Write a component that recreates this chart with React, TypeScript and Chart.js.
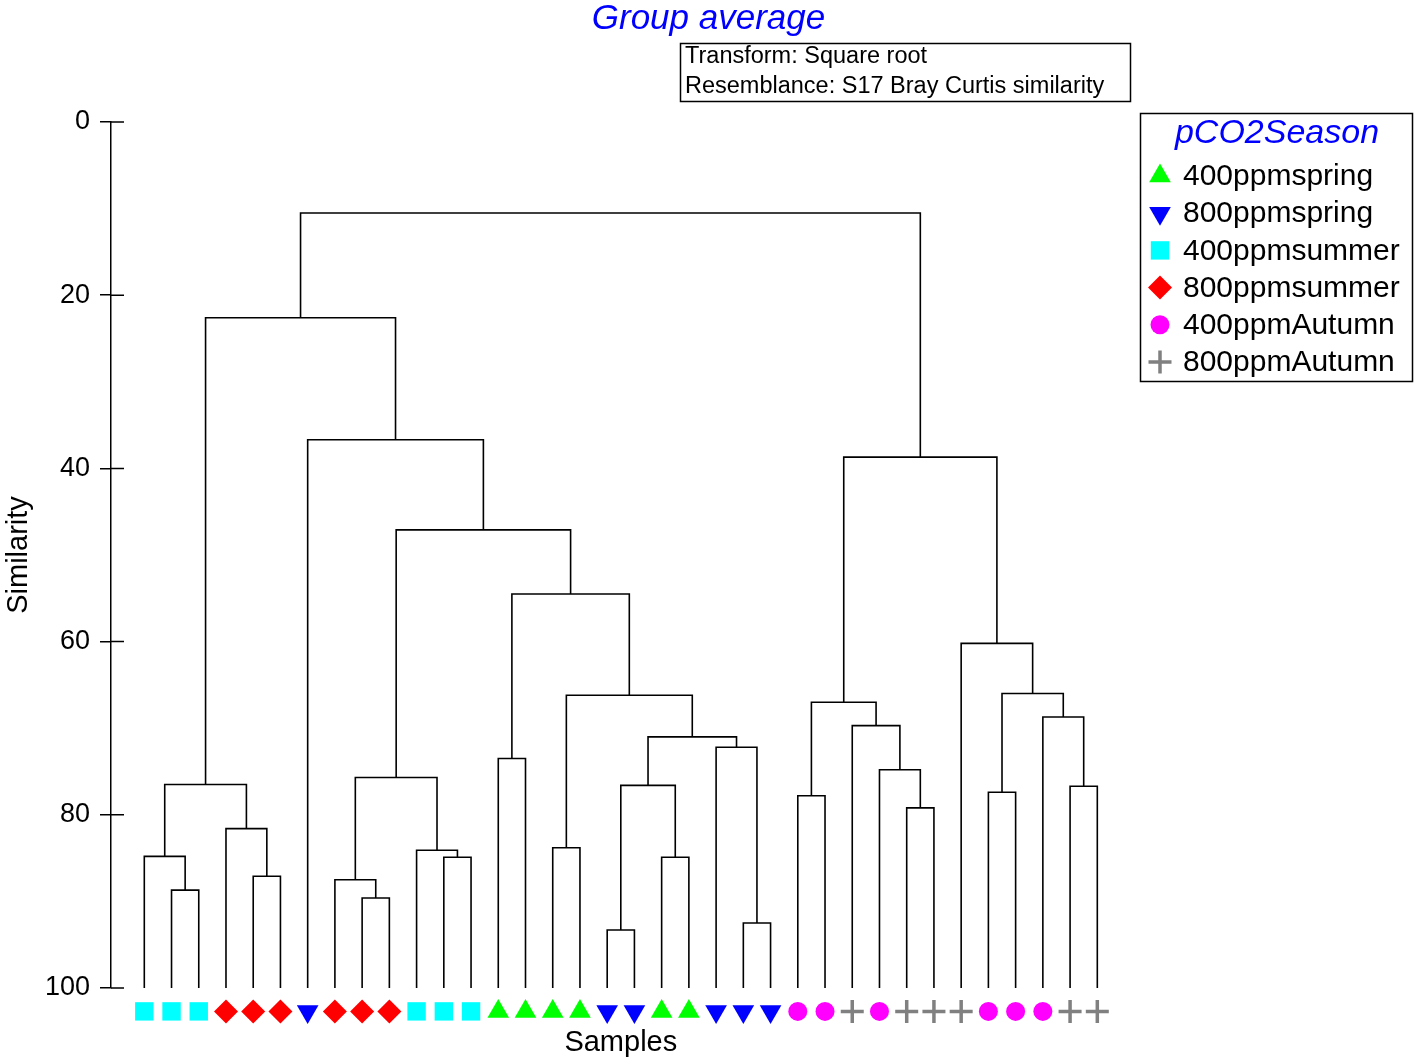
import { useEffect, useRef } from "react";
import { Chart, PointElement, registerables, type Plugin } from "chart.js";

Chart.register(...registerables);

const FONT = "'Liberation Sans', Arial, sans-serif";

const groupNames = ["400ppmspring", "800ppmspring", "400ppmsummer", "800ppmsummer", "400ppmAutumn", "800ppmAutumn"];
const groupColors = ["#00ff00", "#0000ff", "#00ffff", "#ff0000", "#ff00ff", "#808080"];
const groupStyles = ["triangle", "triangle", "rect", "rectRot", "circle", "cross"];
const groupRotation = [0, 180, 0, 0, 0, 0];
const groupRadius = [12.5, 12.5, 13, 12, 9.5, 11.5];

// dendrogram leaf order, each value is an index into groupNames
const leafGroups = [2, 2, 2, 3, 3, 3, 1, 3, 3, 3, 2, 2, 2, 0, 0, 0, 0, 1, 1, 0, 0, 1, 1, 1, 4, 4, 5, 4, 5, 5, 5, 4, 4, 4, 5, 5];

// linkage: ids 0..35 are leaves, merge k becomes node 36 + k
const mergeLeft = [1, 0, 4, 3, 37, 8, 7, 11, 10, 42, 13, 15, 17, 19, 48, 22, 21, 50, 47, 46, 45, 6, 40, 24, 28, 27, 26, 59, 31, 34, 33, 64, 30, 63, 58];
const mergeRight = [2, 36, 5, 38, 39, 9, 41, 12, 43, 44, 14, 16, 18, 20, 49, 23, 51, 52, 53, 54, 55, 56, 57, 25, 29, 60, 61, 62, 32, 35, 65, 66, 67, 68, 69];
const mergeSimilarity = [88.7, 84.8, 87.1, 81.6, 76.5, 89.6, 87.5, 84.9, 84.1, 75.7, 73.5, 83.8, 93.3, 84.9, 76.6, 92.5, 72.2, 71.0, 66.2, 54.5, 47.1, 36.7, 22.6, 77.8, 79.2, 74.8, 69.7, 67.0, 77.4, 76.7, 68.7, 66.0, 60.2, 38.7, 10.5];

const yTicks = [0, 20, 40, 60, 80, 100];
const infoLines = ["Transform: Square root", "Resemblance: S17 Bray Curtis similarity"];
const legendTitle = "pCO2Season";
const xTitle = "Samples";

const MARKER_LEVEL = 102.7;

function buildLinks() {
  const nodeX: number[] = leafGroups.map((_, i) => i);
  const nodeH: number[] = leafGroups.map(() => 100);
  const links: { x: number; y: number }[][] = [];
  mergeLeft.forEach((a, k) => {
    const b = mergeRight[k];
    const h = mergeSimilarity[k];
    links.push([
      { x: nodeX[a], y: nodeH[a] },
      { x: nodeX[a], y: h },
      { x: nodeX[b], y: h },
      { x: nodeX[b], y: nodeH[b] },
    ]);
    nodeX.push((nodeX[a] + nodeX[b]) / 2);
    nodeH.push(h);
  });
  return links;
}

const extras: Plugin<"scatter"> = {
  id: "dendroExtras",
  afterDatasetsDraw(chart) {
    // sample markers sit below the plot area, so draw them without the area check
    const area = { left: 0, top: 0, right: chart.width, bottom: chart.height };
    chart.data.datasets.forEach((ds: any, i) => {
      if (!ds.isMarker) return;
      chart.getDatasetMeta(i).data.forEach((el: any) => el.draw(chart.ctx, area));
    });
  },
  afterDraw(chart) {
    const { ctx, chartArea, scales } = chart;
    const y = scales.y;
    const x = scales.x;
    const area = { left: 0, top: 0, right: chart.width, bottom: chart.height };
    ctx.save();
    ctx.strokeStyle = "#000";
    ctx.lineWidth = 1.5;

    // ticks cross the axis: inner half
    ctx.beginPath();
    y.ticks.forEach((t) => {
      const py = y.getPixelForValue(t.value);
      ctx.moveTo(chartArea.left, py);
      ctx.lineTo(chartArea.left + 13, py);
    });
    ctx.stroke();

    // x axis title centred under the samples
    ctx.fillStyle = "#000";
    ctx.font = `29px ${FONT}`;
    ctx.textAlign = "center";
    ctx.textBaseline = "middle";
    ctx.fillText(xTitle, x.getPixelForValue((leafGroups.length - 1) / 2), 1043);

    // transform / resemblance box
    ctx.strokeRect(680.5, 43.5, 450, 58);
    ctx.font = `23.5px ${FONT}`;
    ctx.textAlign = "left";
    ctx.fillText(infoLines[0], 685, 57);
    ctx.fillText(infoLines[1], 685, 87);

    // legend
    ctx.strokeRect(1140.5, 113.5, 272, 268);
    ctx.fillStyle = "#0000ff";
    ctx.font = `italic 34px ${FONT}`;
    ctx.textAlign = "center";
    ctx.fillText(legendTitle, 1277, 134);
    groupNames.forEach((name, i) => {
      const ry = 176 + i * 37.2;
      const pt = new PointElement({
        x: 1160,
        y: ry,
        options: {
          pointStyle: groupStyles[i],
          rotation: groupRotation[i],
          radius: groupRadius[i],
          borderWidth: groupStyles[i] === "cross" ? 3.5 : 0,
          backgroundColor: groupColors[i],
          borderColor: groupColors[i],
        },
      } as any);
      pt.draw(ctx, area as any);
      ctx.fillStyle = "#000";
      ctx.font = `30px ${FONT}`;
      ctx.textAlign = "left";
      ctx.textBaseline = "middle";
      ctx.fillText(name, 1183, ry + 1);
    });
    ctx.restore();
  },
};

export default function App() {
  const canvasRef = useRef<HTMLCanvasElement | null>(null);
  const chartRef = useRef<Chart<"scatter"> | null>(null);

  useEffect(() => {
    if (!canvasRef.current) return;
    chartRef.current?.destroy();

    const linkSets = buildLinks().map((pts) => ({
      data: pts,
      showLine: true,
      borderColor: "#000",
      borderWidth: 1.6,
      pointRadius: 0,
      clip: false as const,
    }));

    const markerSets = groupNames.map((name, g) => ({
      label: name,
      isMarker: true,
      data: leafGroups.map((lg, i) => (lg === g ? { x: i, y: MARKER_LEVEL } : null)).filter((p) => p !== null),
      showLine: false,
      pointStyle: groupStyles[g] as any,
      pointRotation: groupRotation[g],
      pointRadius: groupRadius[g],
      pointBackgroundColor: groupColors[g],
      pointBorderColor: groupColors[g],
      pointBorderWidth: groupStyles[g] === "cross" ? 3.5 : 0,
      clip: false as const,
    }));

    chartRef.current = new Chart(canvasRef.current, {
      type: "scatter",
      data: { datasets: [...linkSets, ...markerSets] as any },
      options: {
        responsive: false,
        animation: false,
        events: [],
        layout: { padding: 0 },
        plugins: {
          legend: { display: false },
          tooltip: { enabled: false },
          title: {
            display: true,
            text: "Group average",
            color: "#0000ff",
            font: { family: FONT, size: 35, style: "italic", weight: "normal", lineHeight: 1 },
            padding: { top: 2, bottom: 85 },
          },
        },
        scales: {
          x: {
            type: "linear",
            min: -1.223,
            max: 46.19,
            grid: { display: false },
            border: { display: false },
            ticks: { display: false },
            afterFit: (s) => {
              s.height = 75;
            },
          },
          y: {
            type: "linear",
            reverse: true,
            min: 0,
            max: 100,
            afterBuildTicks: (s) => {
              s.ticks = yTicks.map((v) => ({ value: v }));
            },
            grid: {
              drawOnChartArea: false,
              drawTicks: true,
              tickLength: 11,
              color: "#000",
              lineWidth: 1.5,
            },
            border: { display: true, color: "#000", width: 1.5 },
            ticks: {
              color: "#000",
              padding: 10,
              font: { family: FONT, size: 27 },
            },
            title: {
              display: true,
              text: "Similarity",
              color: "#000",
              font: { family: FONT, size: 29 },
              padding: { top: 2, bottom: 0 },
            },
            afterFit: (s) => {
              s.width = 111;
            },
          },
        },
      },
      plugins: [extras],
    });

    return () => {
      chartRef.current?.destroy();
      chartRef.current = null;
    };
  }, []);

  return (
    <div style={{ position: "absolute", left: 0, top: 0, width: 1417, height: 1063, background: "#fff" }}>
      <canvas ref={canvasRef} width={1417} height={1063} style={{ display: "block" }} />
    </div>
  );
}
